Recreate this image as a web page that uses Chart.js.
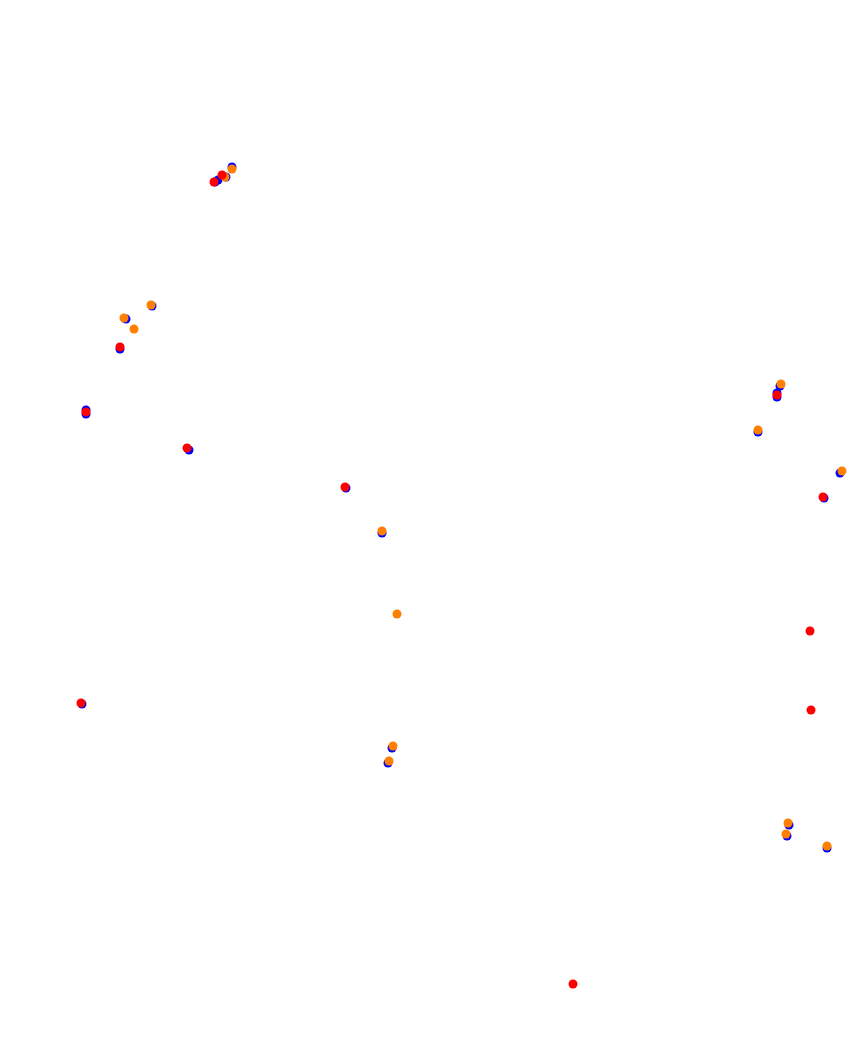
<!DOCTYPE html>
<html>
<head>
<meta charset="utf-8">
<script src="https://cdn.jsdelivr.net/npm/chart.js@4/dist/chart.umd.min.js"></script>
<style>
  html, body { margin: 0; padding: 0; background: #fff; }
  #wrap { width: 867px; height: 1049px; }
</style>
</head>
<body>
<div id="wrap"><canvas id="track" width="867" height="1049"></canvas></div>
<script>
// point positions (x to the right, y downwards)
const redX = [222, 214, 120, 86, 187, 345, 777, 823, 810, 811, 81, 573];
const redY = [175, 182, 347, 412, 448, 487, 395, 497, 631, 710, 703, 984];

const orangeX = [232, 225, 151, 124, 134, 781, 758, 842, 382, 397, 393, 389, 788, 786, 827];
const orangeY = [169, 177, 305, 318, 329, 384, 430, 471, 531, 614, 746, 761, 823, 834, 846];

const blueX = [232, 226, 218, 215, 152, 126, 120, 86, 86, 189, 346, 780, 777, 777, 758,
  840, 824, 382, 392, 388, 82, 789, 787, 827];
const blueY = [167, 177, 180, 182, 306, 319, 349, 410, 414, 450, 488, 386, 393, 397, 432,
  473, 498, 533, 748, 763, 704, 825, 836, 848];

const xRange = [0, 867];
const yRange = [0, 1049];

function toPoints(xs, ys) {
  return xs.map((x, i) => ({ x: x, y: ys[i] }));
}

const ctx = document.getElementById('track').getContext('2d');
new Chart(ctx, {
  type: 'scatter',
  data: {
    datasets: [
      {
        label: 'red',
        data: toPoints(redX, redY),
        backgroundColor: '#ff0000',
        borderWidth: 0,
        pointRadius: 4.5,
      },
      {
        label: 'orange',
        data: toPoints(orangeX, orangeY),
        backgroundColor: '#ff8000',
        borderWidth: 0,
        pointRadius: 4.5,
      },
      {
        label: 'blue',
        data: toPoints(blueX, blueY),
        backgroundColor: '#0000ff',
        borderWidth: 0,
        pointRadius: 4.5,
      },
    ],
  },
  options: {
    responsive: false,
    animation: false,
    layout: { padding: 0, autoPadding: false },
    plugins: {
      legend: { display: false },
      tooltip: { enabled: false },
    },
    scales: {
      x: { type: 'linear', min: xRange[0], max: xRange[1], display: false },
      y: { type: 'linear', min: yRange[0], max: yRange[1], reverse: true, display: false },
    },
  },
});
</script>
</body>
</html>
